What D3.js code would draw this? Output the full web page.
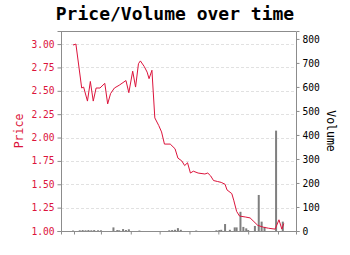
<!DOCTYPE html>
<html>
<head>
<meta charset="utf-8">
<script src="https://cdn.jsdelivr.net/npm/d3@7"></script>
<style>
  body { margin: 0; background: #fff; }
  svg { font-family: "DejaVu Sans Mono", monospace; }
</style>
</head>
<body>
<div id="chart"></div>
<script>
// price series (closing price per trading date)
var priceDates = ["2021-01-31", "2021-02-03", "2021-02-09", "2021-02-11", "2021-02-15", "2021-02-18",
  "2021-02-21", "2021-02-24", "2021-02-28", "2021-03-05", "2021-03-08", "2021-03-11", "2021-03-15",
  "2021-03-20", "2021-03-27", "2021-03-30", "2021-04-03", "2021-04-06", "2021-04-09", "2021-04-11",
  "2021-04-15", "2021-04-18", "2021-04-20", "2021-04-23", "2021-04-26", "2021-04-30", "2021-05-03",
  "2021-05-06", "2021-05-12", "2021-05-17", "2021-05-20", "2021-05-24", "2021-05-27", "2021-05-30",
  "2021-06-02", "2021-06-05", "2021-06-10", "2021-06-17", "2021-06-20", "2021-06-23", "2021-06-26",
  "2021-06-30", "2021-07-04", "2021-07-08", "2021-07-10", "2021-07-15", "2021-07-17", "2021-07-20",
  "2021-07-23", "2021-07-29", "2021-08-03", "2021-08-07", "2021-08-11", "2021-08-17", "2021-08-22",
  "2021-08-29", "2021-09-02", "2021-09-05", "2021-09-07"];
var prices = [2.99, 3.00, 2.53, 2.54, 2.39, 2.60,
  2.39, 2.53, 2.53, 2.58, 2.36, 2.47, 2.53,
  2.56, 2.61, 2.48, 2.71, 2.54, 2.79, 2.82,
  2.76, 2.70, 2.63, 2.72, 2.21, 2.13, 2.06,
  1.93, 1.93, 1.88, 1.78, 1.75, 1.70, 1.73,
  1.62, 1.64, 1.62, 1.61, 1.62, 1.59, 1.54,
  1.53, 1.52, 1.50, 1.44, 1.40, 1.33, 1.21,
  1.16, 1.15, 1.14, 1.10, 1.06, 1.04, 1.03,
  1.02, 1.12, 1.02, 1.08];

// volume series
var volumeDates = ["2021-01-31", "2021-02-07", "2021-02-10", "2021-02-13", "2021-02-16", "2021-02-19",
  "2021-02-22", "2021-02-26", "2021-03-01", "2021-03-14", "2021-03-18", "2021-03-20", "2021-03-24",
  "2021-03-27", "2021-03-30", "2021-04-10", "2021-05-11", "2021-05-14", "2021-05-17", "2021-05-20",
  "2021-05-23", "2021-06-08", "2021-06-29", "2021-07-02", "2021-07-04", "2021-07-08", "2021-07-13",
  "2021-07-18", "2021-07-20", "2021-07-24", "2021-07-27", "2021-07-30", "2021-08-01", "2021-08-08",
  "2021-08-12", "2021-08-15", "2021-08-18", "2021-08-30", "2021-09-06"];
var volumes = [2, 3, 4, 3, 4, 3,
  4, 3, 3, 15, 4, 3, 8,
  4, 7, 2, 3, 4, 5, 12,
  5, 2, 3, 4, 5, 29, 5,
  15, 15, 80, 17, 11, 4, 21,
  150, 39, 17, 418, 39];

var priceTicks = [1.00, 1.25, 1.50, 1.75, 2.00, 2.25, 2.50, 2.75, 3.00];
var volumeTicks = [0, 100, 200, 300, 400, 500, 600, 700, 800];

var width = 350, height = 255;
var margin = { top: 31, right: 54, bottom: 24, left: 61 };
var w = width - margin.left - margin.right;
var h = height - margin.top - margin.bottom;
var red = "#dc143c";
var frame = "#8c8c8c";

var parse = d3.timeParse("%Y-%m-%d");

var x = d3.scaleTime()
    .domain([new Date(2021, 0, 18, 12), new Date(2021, 8, 19, 17)])
    .range([0, w]);
var yPrice = d3.scaleLinear().domain([1.0, 3.14]).range([h, 0]);
var yVol = d3.scaleLinear().domain([0, 833]).range([h, 0]);

var svg = d3.select("#chart").append("svg")
    .attr("width", width)
    .attr("height", height);

svg.append("text")
    .attr("x", 175)
    .attr("y", 20)
    .attr("text-anchor", "middle")
    .style("font-size", "18px")
    .style("font-weight", "bold")
    .text("Price/Volume over time");

var g = svg.append("g")
    .attr("transform", "translate(" + margin.left + "," + margin.top + ")");

// grid
g.selectAll(".grid")
    .data(priceTicks)
    .enter().append("line")
    .attr("x1", 0).attr("x2", w)
    .attr("y1", function(d) { return Math.round(yPrice(d)) + 0.5; })
    .attr("y2", function(d) { return Math.round(yPrice(d)) + 0.5; })
    .attr("stroke", "#d9d9d9")
    .attr("stroke-dasharray", "3,2")
    .attr("stroke-width", 0.8);

// volume bars
var volData = volumeDates.map(function(d, i) { return { date: parse(d), v: volumes[i] }; });
g.selectAll(".bar")
    .data(volData)
    .enter().append("rect")
    .attr("x", function(d) { return x(d.date) - 1; })
    .attr("width", 2)
    .attr("y", function(d) { return yVol(d.v); })
    .attr("height", function(d) { return h - yVol(d.v); })
    .attr("fill", "#7f7f7f");

// price line
var priceData = priceDates.map(function(d, i) { return { date: parse(d), p: prices[i] }; });
var line = d3.line()
    .x(function(d) { return x(d.date); })
    .y(function(d) { return yPrice(d.p); });
g.append("path")
    .datum(priceData)
    .attr("d", line)
    .attr("fill", "none")
    .attr("stroke", red)
    .attr("stroke-width", 1);

// axes
var xAxis = g.append("g")
    .attr("transform", "translate(0," + h + ")")
    .call(d3.axisBottom(x).ticks(d3.timeMonth.every(1)).tickFormat("").tickSize(3.5));

var leftAxis = g.append("g")
    .call(d3.axisLeft(yPrice).tickValues(priceTicks).tickFormat(d3.format(".2f")).tickSize(3.5).tickPadding(3));

var rightAxis = g.append("g")
    .attr("transform", "translate(" + w + ",0)")
    .call(d3.axisRight(yVol).tickValues(volumeTicks).tickSize(3.5).tickPadding(3));

[xAxis, leftAxis, rightAxis].forEach(function(a) {
    a.select(".domain").attr("stroke", frame);
    a.selectAll(".tick line").attr("stroke", frame);
    a.selectAll("text").style("font-family", "DejaVu Sans Mono, monospace").style("font-size", "9.6px");
});
leftAxis.selectAll("text").attr("fill", red);
rightAxis.selectAll("text").attr("fill", "#000");

// top frame
g.append("line")
    .attr("x1", 0).attr("x2", w)
    .attr("y1", 0.5).attr("y2", 0.5)
    .attr("stroke", frame);

// axis labels
svg.append("text")
    .attr("transform", "translate(23," + (margin.top + h / 2) + ") rotate(-90)")
    .attr("text-anchor", "middle")
    .attr("fill", red)
    .style("font-size", "11.5px")
    .text("Price");

svg.append("text")
    .attr("transform", "translate(327," + (margin.top + h / 2) + ") rotate(90)")
    .attr("text-anchor", "middle")
    .attr("fill", "#000")
    .style("font-size", "11.5px")
    .text("Volume");
</script>
</body>
</html>
